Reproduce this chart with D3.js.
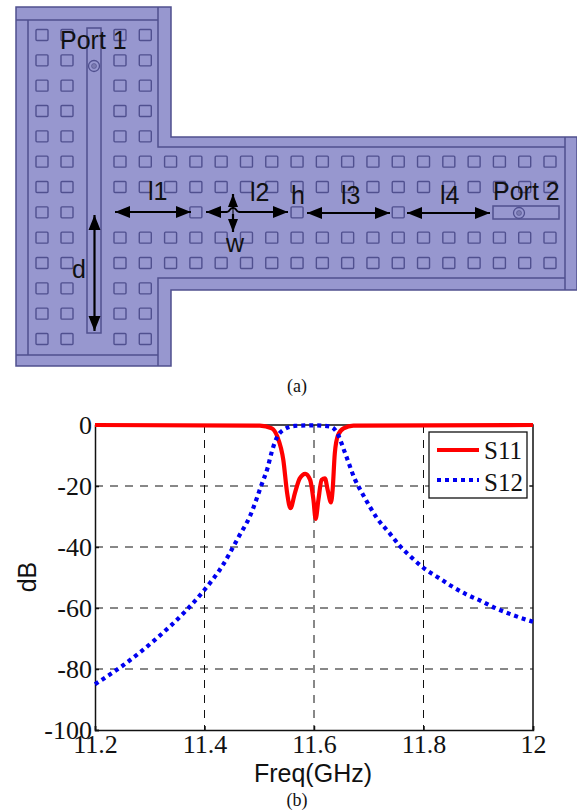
<!DOCTYPE html>
<html>
<head>
<meta charset="utf-8">
<script src="https://cdn.jsdelivr.net/npm/d3@7"></script>
<style>
	body { margin: 0; background: #fff; }
	svg { display: block; }
	.serif { font-family: "Liberation Serif", serif; fill: #111; }
	.sans { font-family: "Liberation Sans", sans-serif; fill: #111; }
</style>
</head>
<body>
<script>
// ---- chart values ----
var s11Freq = [11.2, 11.501, 11.523, 11.533, 11.544, 11.551, 11.557, 11.565, 11.574, 11.584, 11.593, 11.599, 11.603, 11.608, 11.614, 11.62, 11.625, 11.631, 11.634, 11.638, 11.644, 11.654, 11.672, 12];
var s11Db = [0, -0.2, -1.1, -3.8, -11.5, -22.4, -27.3, -22.4, -17.5, -16, -18, -24.6, -30.8, -24.6, -18, -17.5, -21.3, -25.4, -21.3, -9.3, -3.3, -1.1, -0.2, 0];
var s12Freq = [11.2, 11.252, 11.311, 11.366, 11.396, 11.4325, 11.462, 11.484, 11.504, 11.515, 11.523, 11.533, 11.544, 11.565, 11.599, 11.629, 11.641, 11.657, 11.674, 11.69, 11.715, 11.739, 11.757, 11.778, 11.801, 11.826, 11.851, 11.878, 11.905, 11.932, 11.96, 11.989, 12];
var s12Db = [-85, -78.7, -70.2, -60.9, -54.9, -46.2, -36.8, -29.5, -19.7, -14.2, -8.7, -3.8, -1.6, -0.3, -0.1, -0.5, -2.2, -9.3, -17.5, -23, -30.5, -35.7, -39.7, -43.4, -47, -49.9, -52.8, -55.5, -57.7, -60.1, -62.1, -63.9, -64.5];
var xTicks = [11.2, 11.4, 11.6, 11.8, 12];
var yTicks = [0, -20, -40, -60, -80, -100];
var seriesNames = ['S11', 'S12'];

// ---- structure diagram, in via grid units ----
var armCols = [0, 1, 3, 4];
var armRows = d3.range(0, 13);
var branchCols = d3.range(5, 21);
var branchRows = [5, 6, 8, 9];
var resonatorCols = [6, 10, 14];
var resonatorRow = 7;

var width = 577,
	height = 812,
	margin = {top: 425, right: 44, bottom: 82, left: 95};

var svg = d3.select('body').append('svg')
	.attr('width', width)
	.attr('height', height);

// ---- (a) structure ----
var board = '#9797cf',
	edge = '#50508f';

var g = svg.append('g');

var colScale = d3.scaleLinear().domain([0, 1, 3, 20]).range([42, 67, 120, 550]),
	rowScale = d3.scaleLinear().domain([0, 12]).range([35, 339]);

g.append('path')
	.attr('d', 'M16,7H171V137H577V290H171V366H16Z')
	.attr('fill', board)
	.attr('stroke', edge)
	.attr('stroke-width', 1.5);

// inner wall lines
g.append('path')
	.attr('d', 'M16,20H158M28,20V355M16,355H158M158,7V147H565M565,137V290M158,366V278H565')
	.attr('fill', 'none')
	.attr('stroke', edge)
	.attr('stroke-width', 1.5);

// feed lines
g.append('rect').attr('x', 87).attr('y', 28).attr('width', 14).attr('height', 305)
	.attr('fill', board).attr('stroke', edge).attr('stroke-width', 1.5);
g.append('rect').attr('x', 493).attr('y', 206).attr('width', 66).attr('height', 13)
	.attr('fill', board).attr('stroke', edge).attr('stroke-width', 1.5);

// collect the vias
var vias = [];
armCols.forEach(function(c) {
	armRows.forEach(function(r) {
		// the two columns next to the feed stop at the branch centre row
		if (c >= 3 && r === resonatorRow) return;
		vias.push([c, r]);
	});
});
branchCols.forEach(function(c) {
	branchRows.forEach(function(r) {
		vias.push([c, r]);
	});
});
resonatorCols.forEach(function(c) {
	vias.push([c, resonatorRow]);
});

g.selectAll('.via')
	.data(vias)
	.enter().append('rect')
	.attr('class', 'via')
	.attr('x', function(d) { return colScale(d[0]) - 6; })
	.attr('y', function(d) { return rowScale(d[1]) - 5.5; })
	.attr('width', 12)
	.attr('height', 11)
	.attr('rx', 1)
	.attr('fill', board)
	.attr('stroke', edge)
	.attr('stroke-width', 1.4);

// port circles
[[94, 66], [519, 213]].forEach(function(p) {
	g.append('circle').attr('cx', p[0]).attr('cy', p[1]).attr('r', 5.5)
		.attr('fill', 'none').attr('stroke', edge).attr('stroke-width', 1.3);
	g.append('circle').attr('cx', p[0]).attr('cy', p[1]).attr('r', 2.5)
		.attr('fill', '#7a7ab0').attr('stroke', edge).attr('stroke-width', 0.6);
});

// double headed arrows, [x1, y1, x2, y2]
var arrows = [
	[94.5, 215, 94.5, 331],
	[115, 212, 191, 212],
	[206, 212, 288, 212],
	[233, 194, 233, 232],
	[307, 213, 390, 213],
	[407, 213, 490, 213]
];
arrows.forEach(function(a) {
	var angle = Math.atan2(a[3] - a[1], a[2] - a[0]) * 180 / Math.PI,
		len = Math.hypot(a[2] - a[0], a[3] - a[1]),
		head = len < 50 ? 13 : 15,
		half = len < 50 ? 5 : 6,
		arrow = g.append('g')
			.attr('transform', 'translate(' + a[0] + ',' + a[1] + ') rotate(' + angle + ')');
	arrow.append('line').attr('x2', len).attr('stroke', '#000').attr('stroke-width', 2.2);
	arrow.append('path')
		.attr('d', 'M0,0L' + head + ',' + (-half) + 'V' + half + 'Z' +
			'M' + len + ',0L' + (len - head) + ',' + (-half) + 'V' + half + 'Z')
		.attr('fill', '#000');
});

// the l2 arrow hops over the w arrow
g.append('rect').attr('x', 227).attr('y', 208.5).attr('width', 12).attr('height', 5.5)
	.attr('fill', board);
g.append('path')
	.attr('d', 'M226,212Q229,212 230,209.5Q231,208 233,208Q235,208 236,209.5Q237,212 240,212')
	.attr('fill', 'none')
	.attr('stroke', '#000')
	.attr('stroke-width', 2);
g.append('line').attr('x1', 233).attr('x2', 233).attr('y1', 208).attr('y2', 219)
	.attr('stroke', '#000').attr('stroke-width', 1);

// diagram labels
var labels = [
	['Port 1', 60, 49], ['l1', 148, 200], ['l2', 250, 201], ['h', 291, 204],
	['l3', 341, 204], ['l4', 440, 204], ['Port 2', 493, 200], ['w', 226, 252], ['d', 72, 278]
];
g.selectAll('.dlabel')
	.data(labels)
	.enter().append('text')
	.attr('class', 'dlabel sans')
	.attr('x', function(d) { return d[1]; })
	.attr('y', function(d) { return d[2]; })
	.style('font-size', '25px')
	.text(function(d) { return d[0]; });

svg.append('text').attr('class', 'serif')
	.attr('x', 297).attr('y', 392)
	.attr('text-anchor', 'middle')
	.style('font-size', '18px')
	.text('(a)');

// ---- (b) response ----
var plotW = width - margin.left - margin.right,
	plotH = 305;

var xScale = d3.scaleLinear().domain([11.2, 12]).range([0, plotW]),
	yScale = d3.scaleLinear().domain([-100, 0]).range([plotH, 0]);

var plot = svg.append('g')
	.attr('transform', 'translate(' + margin.left + ',' + margin.top + ')');

// dashed grid
plot.selectAll('.vgrid')
	.data(xTicks.slice(1, -1))
	.enter().append('line')
	.attr('class', 'vgrid')
	.attr('x1', function(d) { return xScale(d); })
	.attr('x2', function(d) { return xScale(d); })
	.attr('y1', 0)
	.attr('y2', plotH);
plot.selectAll('.hgrid')
	.data(yTicks.slice(1, -1))
	.enter().append('line')
	.attr('class', 'hgrid')
	.attr('x1', 0)
	.attr('x2', plotW)
	.attr('y1', function(d) { return yScale(d); })
	.attr('y2', function(d) { return yScale(d); });
plot.selectAll('.vgrid, .hgrid')
	.attr('stroke', '#111')
	.attr('stroke-width', 1)
	.attr('stroke-dasharray', '8 7');

// axes with inward ticks
var xAxis = plot.append('g')
	.attr('transform', 'translate(0,' + plotH + ')')
	.call(d3.axisBottom(xScale).tickValues(xTicks).tickSize(-4).tickPadding(5).tickFormat(d3.format('')));
var yAxis = plot.append('g')
	.call(d3.axisLeft(yScale).tickValues(yTicks).tickSize(-4).tickPadding(3).tickFormat(function(d) { return d; }));

[xAxis, yAxis].forEach(function(ax) {
	ax.selectAll('path, line').attr('stroke', '#111').attr('stroke-width', 1.5);
	ax.selectAll('text')
		.attr('class', 'serif')
		.style('font-size', '26px');
	ax.attr('font-family', null);
});
yAxis.selectAll('text').attr('dy', '0.34em');

// top and right border
plot.append('path')
	.attr('d', 'M0,0H' + plotW + 'V' + plotH)
	.attr('fill', 'none')
	.attr('stroke', '#111')
	.attr('stroke-width', 1.5);
plot.append('line')
	.attr('x1', plotW - 4).attr('x2', plotW)
	.attr('y1', yScale(-20)).attr('y2', yScale(-20))
	.attr('stroke', '#111');

// curves
var line = d3.line()
	.x(function(d) { return xScale(d[0]); })
	.y(function(d) { return yScale(d[1]); })
	.curve(d3.curveMonotoneX);

plot.append('path')
	.datum(d3.zip(s11Freq, s11Db))
	.attr('d', line)
	.attr('fill', 'none')
	.attr('stroke', '#ff0000')
	.attr('stroke-width', 4.2);

plot.append('path')
	.datum(d3.zip(s12Freq, s12Db))
	.attr('d', line)
	.attr('fill', 'none')
	.attr('stroke', '#0000f0')
	.attr('stroke-width', 4.2)
	.attr('stroke-dasharray', '4 4');

// legend
var legend = svg.append('g').attr('transform', 'translate(429,432)');
legend.append('rect')
	.attr('width', 98)
	.attr('height', 66)
	.attr('fill', '#fff')
	.attr('stroke', '#111')
	.attr('stroke-width', 1.3);
legend.selectAll('.key')
	.data(seriesNames)
	.enter().append('line')
	.attr('class', 'key')
	.attr('x1', 8)
	.attr('x2', 50)
	.attr('y1', function(d, i) { return 18 + i * 30; })
	.attr('y2', function(d, i) { return 18 + i * 30; })
	.attr('stroke', function(d, i) { return i ? '#0000f0' : '#ff0000'; })
	.attr('stroke-width', 4.2)
	.attr('stroke-dasharray', function(d, i) { return i ? '4 4' : null; });
legend.selectAll('.name')
	.data(seriesNames)
	.enter().append('text')
	.attr('class', 'name serif')
	.attr('x', 55)
	.attr('y', function(d, i) { return 27 + i * 32; })
	.style('font-size', '25px')
	.text(function(d) { return d; });

// axis titles and caption
svg.append('text').attr('class', 'sans')
	.attr('x', 313).attr('y', 782)
	.attr('text-anchor', 'middle')
	.style('font-size', '25px')
	.text('Freq(GHz)');
svg.append('text').attr('class', 'sans')
	.attr('transform', 'translate(36,577) rotate(-90)')
	.attr('text-anchor', 'middle')
	.style('font-size', '25px')
	.text('dB');
svg.append('text').attr('class', 'serif')
	.attr('x', 297).attr('y', 806)
	.attr('text-anchor', 'middle')
	.style('font-size', '18px')
	.text('(b)');
</script>
</body>
</html>
